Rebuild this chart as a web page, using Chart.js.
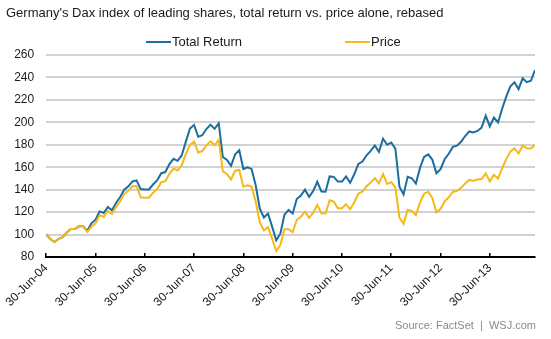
<!DOCTYPE html>
<html>
<head>
<meta charset="utf-8">
<script src="https://cdn.jsdelivr.net/npm/chart.js@4.4.1/dist/chart.umd.min.js"></script>
<style>
  html, body { margin: 0; padding: 0; background: #fff; }
</style>
</head>
<body>
<canvas id="chart" width="551" height="339"></canvas>
<script>
// ========== DATA ========== //
// monthly, month index 0 = Jun 2004 ... 119 = May 2014 (rebased, Jun 2004 = 100)
const totalReturn = [
    100.0, 96.1, 93.4, 96.1, 97.7, 101.8, 105.0, 105.0, 107.3, 107.3,
    103.3, 110.0, 113.2, 120.6, 119.2, 124.5, 121.6, 128.1, 133.4, 140.0,
    143.0, 147.3, 148.3, 140.5, 140.2, 140.2, 144.6, 148.2, 154.7, 155.7,
    162.8, 167.5, 165.7, 170.7, 182.8, 194.5, 197.6, 187.1, 188.5, 194.0,
    197.9, 194.2, 199.1, 169.1, 166.5, 161.2, 171.5, 175.1, 158.4, 159.9,
    158.5, 143.9, 123.1, 115.2, 118.7, 107.1, 94.8, 100.8, 117.7, 121.9,
    118.7, 131.6, 134.8, 140.0, 133.6, 138.8, 147.0, 138.4, 138.1, 151.8,
    151.4, 147.2, 147.2, 151.7, 146.2, 153.7, 162.9, 165.0, 170.6, 174.6,
    179.4, 173.7, 185.4, 180.0, 182.0, 176.6, 142.7, 135.8, 151.5, 150.2,
    145.5, 159.4, 169.2, 171.4, 166.8, 154.6, 158.3, 167.1, 172.0, 178.1,
    179.2, 182.7, 187.8, 191.9, 191.0, 192.3, 195.3, 206.0, 196.4, 204.2,
    199.9, 212.1, 222.9, 232.1, 235.7, 229.6, 239.2, 235.8, 237.0, 246.6
];
const price = [
    100.0, 96.1, 93.4, 96.1, 97.7, 101.8, 105.0, 105.0, 107.3, 107.3,
    102.3, 106.9, 110.0, 117.2, 115.9, 121.0, 118.2, 124.5, 129.7, 136.1,
    139.0, 143.2, 143.1, 133.2, 132.9, 132.9, 137.1, 140.5, 146.7, 147.6,
    154.3, 158.8, 157.1, 161.8, 171.8, 179.9, 182.8, 173.1, 174.4, 179.5,
    183.1, 179.6, 184.2, 156.4, 154.0, 149.1, 156.9, 157.6, 142.6, 143.9,
    142.7, 129.5, 110.8, 103.7, 106.8, 96.4, 85.3, 90.7, 104.8, 104.8,
    102.1, 113.2, 115.9, 120.4, 114.9, 119.4, 126.4, 119.0, 118.8, 130.5,
    129.4, 123.4, 123.4, 127.1, 122.5, 128.8, 136.5, 138.3, 143.0, 146.3,
    150.3, 145.6, 153.9, 145.1, 146.7, 142.3, 115.0, 109.5, 122.1, 121.1,
    117.3, 128.5, 136.4, 138.1, 132.6, 119.8, 122.7, 129.5, 133.3, 138.0,
    138.9, 141.6, 145.5, 148.7, 148.0, 149.0, 149.4, 154.5, 147.3, 153.2,
    149.9, 159.1, 167.2, 174.1, 176.8, 172.2, 179.4, 176.9, 176.6, 179.8
];
const tickMonths = [0, 12, 24, 36, 48, 60, 72, 84, 96, 108];
const tickLabels = ['30-Jun-04', '30-Jun-05', '30-Jun-06', '30-Jun-07', '30-Jun-08',
                    '30-Jun-09', '30-Jun-10', '30-Jun-11', '30-Jun-12', '30-Jun-13'];
const yMin = 80, yMax = 260, yStep = 20;

const titleText = "Germany's Dax index of leading shares, total return vs. price alone, rebased";
const sourceText = 'Source: FactSet  |  WSJ.com';

const FONT = '"Liberation Sans", Arial, sans-serif';
const BLUE = '#1c6e9e';
const GOLD = '#f5b918';

// ========== TITLE / LEGEND / SOURCE ========== //
const decorations = {
    id: 'decorations',
    afterDraw(chart) {
        const ctx = chart.ctx;
        ctx.save();
        ctx.fillStyle = '#1a1a1a';
        ctx.font = '13px ' + FONT;
        ctx.textBaseline = 'alphabetic';
        ctx.fillText(titleText, 6, 17);

        // legend: short line then label, two items
        const items = [
            { ds: chart.data.datasets[1], x: 146 },
            { ds: chart.data.datasets[0], x: 345 }
        ];
        ctx.textBaseline = 'middle';
        items.forEach(it => {
            ctx.strokeStyle = it.ds.borderColor;
            ctx.lineWidth = 2;
            ctx.beginPath();
            ctx.moveTo(it.x, 42);
            ctx.lineTo(it.x + 25, 42);
            ctx.stroke();
            ctx.fillStyle = '#1a1a1a';
            ctx.fillText(it.ds.label, it.x + 26, 42);
        });

        ctx.font = '11px ' + FONT;
        ctx.fillStyle = '#8a8a8a';
        ctx.textAlign = 'right';
        ctx.textBaseline = 'alphabetic';
        ctx.fillText(sourceText, 536, 329);
        ctx.restore();
    }
};

// ========== CHART ========== //
const toPoints = arr => arr.map((v, i) => ({ x: i, y: v }));

new Chart(document.getElementById('chart'), {
    type: 'line',
    data: {
        datasets: [
            {
                label: 'Price',
                data: toPoints(price),
                borderColor: GOLD,
                backgroundColor: GOLD,
                borderWidth: 2,
                pointRadius: 0,
                order: 0
            },
            {
                label: 'Total Return',
                data: toPoints(totalReturn),
                borderColor: BLUE,
                backgroundColor: BLUE,
                borderWidth: 2,
                pointRadius: 0,
                order: 1
            }
        ]
    },
    options: {
        responsive: false,
        animation: false,
        layout: { padding: { top: 55, right: 16, bottom: 12, left: 0 } },
        plugins: {
            legend: { display: false },
            tooltip: { enabled: false }
        },
        scales: {
            x: {
                type: 'linear',
                min: 0,
                max: totalReturn.length - 1,
                afterBuildTicks: s => { s.ticks = tickMonths.map(v => ({ value: v })); },
                afterFit: s => { s.height = 70; },
                ticks: {
                    autoSkip: false,
                    maxRotation: 45,
                    minRotation: 45,
                    padding: 8,
                    color: '#1a1a1a',
                    font: { family: FONT, size: 12 },
                    callback: v => tickLabels[tickMonths.indexOf(v)]
                },
                grid: {
                    display: true,
                    drawOnChartArea: false,
                    drawTicks: true,
                    tickLength: -4,
                    color: '#000',
                    lineWidth: 1.5
                },
                border: { display: true, color: '#000', width: 2 }
            },
            y: {
                min: yMin,
                max: yMax,
                afterFit: s => { s.width = 45; },
                ticks: {
                    stepSize: yStep,
                    padding: 12,
                    color: '#1a1a1a',
                    font: { family: FONT, size: 12 }
                },
                grid: { color: '#d2d2d2', lineWidth: 2, drawTicks: false },
                border: { display: false }
            }
        }
    },
    plugins: [decorations]
});
</script>
</body>
</html>
